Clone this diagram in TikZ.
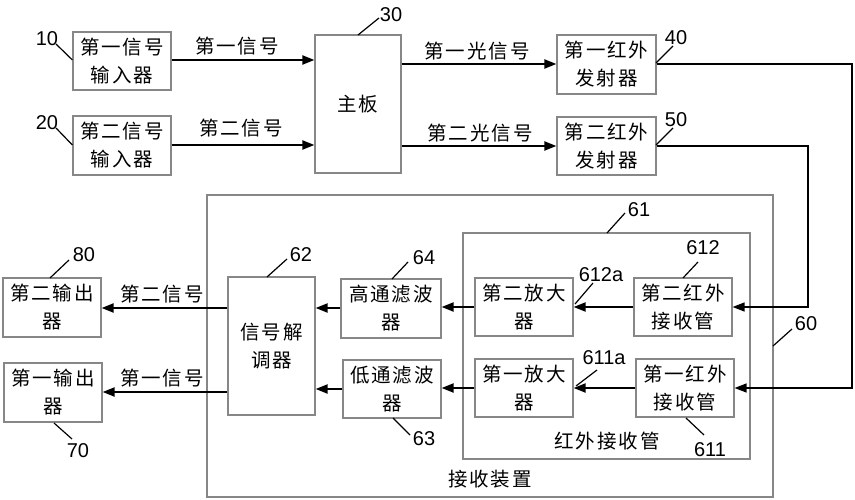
\documentclass[tikz,border=0pt]{standalone}
\usepackage{fontspec}
\setmainfont{Liberation Sans}
\newfontfamily\cjk[LetterSpace=10]{Noto Sans CJK SC}
\usetikzlibrary{arrows.meta}
\definecolor{boxgray}{RGB}{135,135,135}
\tikzset{
  box/.style={draw=boxgray, line width=1.2pt, inner sep=0pt, align=center,
    font=\cjk\fontsize{19.5}{28}\selectfont},
  arr/.style={-{Triangle[length=12pt,width=9pt]}, line width=2pt},
  fb/.style={-{Triangle[length=12pt,width=9pt]}, line width=1.6pt},
  lead/.style={line width=1.2pt},
  num/.style={font=\fontsize{20}{20}\selectfont, inner sep=0pt},
  lbl/.style={font=\cjk\fontsize{19.5}{28}\selectfont, inner sep=0pt},
}
\begin{document}
\begin{tikzpicture}[x=1pt,y=-1pt]
\useasboundingbox (0,0) rectangle (855,500);
% containers
\node[box, minimum width=566pt, minimum height=302pt] (b60) at (490,346) {};
\node[box, minimum width=287pt, minimum height=226pt] (b61) at (606.5,346) {};
% boxes
\node[box, minimum width=98pt, minimum height=58pt] (b10) at (122,61) {第一信号\\输入器};
\node[box, minimum width=98pt, minimum height=59pt] (b20) at (122,145.5) {第二信号\\输入器};
\node[box, minimum width=86pt, minimum height=138pt] (b30) at (358,104) {主板};
\node[box, minimum width=99pt, minimum height=59pt] (b40) at (606.5,64.5) {第一红外\\发射器};
\node[box, minimum width=99pt, minimum height=58pt] (b50) at (606.5,146) {第二红外\\发射器};
\node[box, minimum width=98pt, minimum height=58pt] (b612) at (683,307) {第二红外\\接收管};
\node[box, minimum width=98pt, minimum height=58pt] (b611) at (685,388) {第一红外\\接收管};
\node[box, minimum width=98pt, minimum height=58pt] (a2) at (524,307) {第二放大\\器};
\node[box, minimum width=98pt, minimum height=58pt] (a1) at (524,388) {第一放大\\器};
\node[box, minimum width=100pt, minimum height=59pt] (hp) at (391,308.5) {高通滤波\\器};
\node[box, minimum width=98pt, minimum height=58pt] (lp) at (392,389) {低通滤波\\器};
\node[box, minimum width=87pt, minimum height=138pt] (dm) at (271.5,346) {信号解\\调器};
\node[box, minimum width=98pt, minimum height=59pt] (o80) at (52,307.5) {第二输出\\器};
\node[box, minimum width=98pt, minimum height=59pt] (o70) at (53,392.5) {第一输出\\器};
% arrows
\draw[arr] (b10.east |- 0,60) -- (b30.west |- 0,60);
\draw[arr] (b20.east |- 0,145) -- (b30.west |- 0,145);
\draw[arr] (b30.east |- 0,64) -- (b40.west |- 0,64);
\draw[arr] (b30.east |- 0,146) -- (b50.west |- 0,146);
\draw[fb] (b40.east |- 0,64) -- (852,64) -- (852,388) -- (b611.east |- 0,388);
\draw[fb] (b50.east |- 0,146) -- (808,146) -- (808,307) -- (b612.east |- 0,307);
\draw[arr] (b612.west |- 0,307) -- (a2.east |- 0,307);
\draw[arr] (b611.west |- 0,388) -- (a1.east |- 0,388);
\draw[arr] (a2.west |- 0,307) -- (hp.east |- 0,307);
\draw[arr] (a1.west |- 0,388) -- (lp.east |- 0,388);
\draw[arr] (hp.west |- 0,308) -- (dm.east |- 0,308);
\draw[arr] (lp.west |- 0,389) -- (dm.east |- 0,389);
\draw[arr] (dm.west |- 0,308) -- (o80.east |- 0,308);
\draw[arr] (dm.west |- 0,392) -- (o70.east |- 0,392);
% edge labels
\node[lbl] (l1) at (237,46) {第一信号};
\node[lbl] (l2) at (241,128) {第二信号};
\node[lbl] (l3) at (477,51) {第一光信号};
\node[lbl] (l4) at (480,133) {第二光信号};
\node[lbl] (l5) at (162,294) {第二信号};
\node[lbl] (l6) at (162,378) {第一信号};
\node[lbl] (l7) at (607,441) {红外接收管};
\node[lbl] (l8) at (490,479) {接收装置};
% reference numbers
\node[num] (n10) at (47,39) {10};
\draw[lead] (56,44) -- (b10.west |- 0,60);
\node[num] (n20) at (47,123) {20};
\draw[lead] (56,128) -- (b20.west |- 0,145);
\node[num] (n30) at (391,15) {30};
\draw[lead] (379,18) -- (358,35);
\node[num] (n40) at (676,38) {40};
\draw[lead] (673,46) -- (656,63);
\node[num] (n50) at (676,120) {50};
\draw[lead] (673,128) -- (656,145);
\node[num] (n80) at (84,255) {80};
\draw[lead] (69,260) -- (50,278);
\node[num] (n70) at (78,451) {70};
\draw[lead] (54,423) -- (72,439);
\node[num] (n62) at (301,255) {62};
\draw[lead] (287,259) -- (267,277);
\node[num] (n64) at (424,258) {64};
\draw[lead] (408,262) -- (392,279);
\node[num] (n63) at (424,439) {63};
\draw[lead] (393,418) -- (410,435);
\node[num] (n61) at (639,210) {61};
\draw[lead] (625,213) -- (607,233);
\node[num] (n612) at (703,248) {612};
\draw[lead] (698,262) -- (683,278);
\node[num] (n612a) at (601,275) {612a};
\draw[lead] (593,283) -- (575,304);
\node[num] (n611a) at (604,358) {611a};
\draw[lead] (597,370) -- (576,386);
\node[num] (n611) at (710,450) {611};
\draw[lead] (686,418) -- (704,435);
\node[num] (n60) at (806,324) {60};
\draw[lead] (792,329) -- (773,346);
\end{tikzpicture}
\end{document}
